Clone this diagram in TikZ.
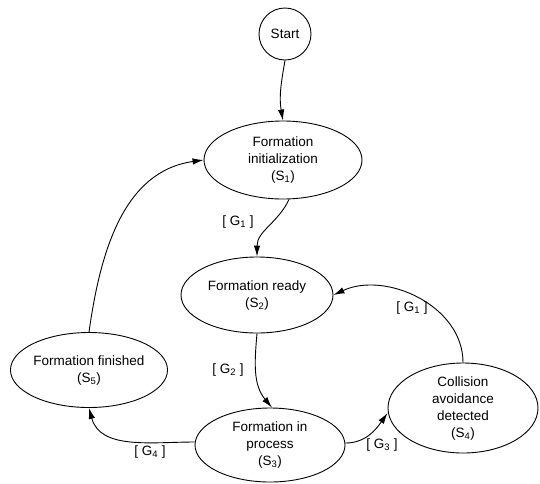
\documentclass[tikz,border=0pt]{standalone}
\usepackage{fontspec}
\setmainfont{Liberation Sans}
\usepackage{tikz}
\usetikzlibrary{arrows.meta}
\usetikzlibrary{shapes.geometric}
\tikzset{>={Latex[length=11pt,width=6.5pt]}}
\tikzset{
  state/.style={draw, ellipse, inner sep=0pt, align=center, line width=0.9pt},
  guard/.style={inner sep=1pt},
  trans/.style={->, line width=0.9pt}
}

\begin{document}
\begin{tikzpicture}[x=1pt, y=1pt, font=\fontsize{13.5}{17}\selectfont]
    \useasboundingbox (0,0) rectangle (540,-483);

    \node[draw, circle, minimum size=52pt, inner sep=0pt, line width=0.9pt] (start) at (285,-34) {Start};
    \node[state, minimum width=158pt, minimum height=78pt] (s1) at (283,-160) {Formation\\initialization\\(S\textsubscript{1})};
    \node[state, minimum width=152pt, minimum height=76pt] (s2) at (257,-295) {Formation ready\\(S\textsubscript{2})};
    \node[state, minimum width=150pt, minimum height=74pt] (s3) at (270,-445) {Formation in\\process\\(S\textsubscript{3})};
    \node[state, minimum width=150pt, minimum height=90pt] (s4) at (463,-408) {Collision\\avoidance\\detected\\(S\textsubscript{4})};
    \node[state, minimum width=152pt, minimum height=75pt] (s5) at (89,-370) {Formation finished\\(S\textsubscript{5})};

    \draw[trans] (start.south) to[out=-100, in=100] (s1.north);
    \draw[trans] ([xshift=6pt]s1.south) to[out=-115, in=90] (s2.north);
    \draw[trans] (s2.south) to[out=-95, in=130] ([xshift=2pt]s3.north);
    \draw[trans] ([yshift=3pt]s3.west) to[out=180, in=-75] (s5.south);
    \draw[trans] ([yshift=2pt]s3.east) to[out=0, in=-125] ([yshift=-5pt]s4.west);
    \draw[trans] (s4.north) to[out=90, in=25] (s2.east);
    \draw[trans] (s5.north) to[out=82, in=188] (s1.west);

    \node[guard] (g1a) at (238,-222) {[ G\textsubscript{1} ]};
    \node[guard] (g2) at (228,-370) {[ G\textsubscript{2} ]};
    \node[guard] (g3) at (382,-445) {[ G\textsubscript{3} ]};
    \node[guard] (g4) at (150,-452) {[ G\textsubscript{4} ]};
    \node[guard] (g1b) at (412,-308) {[ G\textsubscript{1} ]};
\end{tikzpicture}
\end{document}
